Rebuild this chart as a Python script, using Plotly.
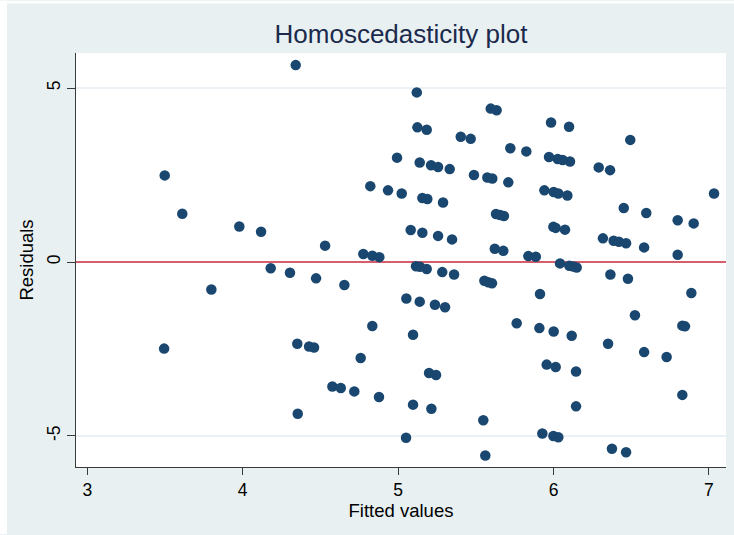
import plotly.graph_objects as go

fitted = [
    4.341, 3.498, 3.611, 3.978, 4.118, 4.180, 4.304, 4.472, 3.798, 3.494,
    4.351, 4.427, 4.459, 4.354, 5.120, 5.596, 5.634, 5.124, 5.184, 5.403,
    5.467, 5.722, 4.993, 5.139, 5.212, 5.257, 5.332, 5.488, 5.574, 5.606,
    5.709, 4.821, 4.935, 5.023, 5.156, 5.188, 5.289, 5.630, 5.656, 5.681,
    4.530, 5.081, 5.156, 5.257, 5.347, 5.622, 5.677, 4.776, 4.834, 4.879,
    5.115, 5.141, 5.184, 5.284, 5.360, 5.555, 5.580, 5.604, 4.654, 5.053,
    5.139, 5.237, 5.302, 4.834, 5.096, 5.763, 4.759, 5.199, 5.244, 4.577,
    4.631, 4.718, 4.877, 5.096, 5.214, 5.548, 5.051, 5.561, 5.984, 6.100,
    6.494, 5.825, 5.971, 6.027, 6.059, 6.106, 6.291, 6.364, 5.941, 6.001,
    6.031, 6.089, 7.033, 6.452, 6.597, 6.799, 6.902, 5.999, 6.014, 6.074,
    6.318, 6.387, 6.421, 6.467, 6.583, 6.799, 5.838, 5.886, 6.042, 6.102,
    6.127, 6.149, 6.366, 6.479, 5.913, 6.887, 6.524, 5.909, 6.001, 6.117,
    6.829, 6.846, 6.351, 6.583, 6.728, 5.956, 6.014, 6.145, 6.829, 6.145,
    5.928, 5.999, 6.031, 6.376, 6.467,
]
residuals = [
    5.66, 2.49, 1.385, 1.02, 0.87, -0.18, -0.31, -0.47, -0.79, -2.49,
    -2.35, -2.43, -2.46, -4.36, 4.875, 4.41, 4.36, 3.87, 3.80, 3.60,
    3.54, 3.27, 3.00, 2.86, 2.78, 2.73, 2.67, 2.50, 2.43, 2.40,
    2.29, 2.18, 2.06, 1.97, 1.84, 1.81, 1.71, 1.38, 1.35, 1.32,
    0.47, 0.92, 0.84, 0.75, 0.65, 0.38, 0.32, 0.23, 0.18, 0.14,
    -0.12, -0.14, -0.20, -0.29, -0.36, -0.54, -0.58, -0.61, -0.66, -1.05,
    -1.14, -1.23, -1.30, -1.84, -2.09, -1.76, -2.76, -3.19, -3.25, -3.58,
    -3.62, -3.72, -3.88, -4.10, -4.22, -4.55, -5.05, -5.56, 4.01, 3.89,
    3.51, 3.18, 3.02, 2.96, 2.93, 2.89, 2.72, 2.64, 2.06, 2.01,
    1.97, 1.91, 1.97, 1.55, 1.41, 1.20, 1.11, 1.01, 0.98, 0.93,
    0.68, 0.61, 0.58, 0.54, 0.42, 0.21, 0.17, 0.15, -0.04, -0.11,
    -0.13, -0.16, -0.36, -0.48, -0.92, -0.89, -1.53, -1.90, -2.00, -2.12,
    -1.83, -1.85, -2.35, -2.59, -2.73, -2.95, -3.02, -3.15, -3.82, -4.15,
    -4.93, -5.00, -5.04, -5.37, -5.47,
]
x_ticks = [3, 4, 5, 6, 7]
x_tick_labels = ["3", "4", "5", "6", "7"]
y_ticks = [-5, 0, 5]
y_tick_labels = ["-5", "0", "5"]
ref_line = 0

W, H = 734, 535
L, R, T, B = 76, 8, 52.5, 67.5
pw, ph = W - L - R, H - T - B

FONT = "Liberation Sans, Arial, Helvetica, sans-serif"
BG = "#E8F0F2"
GRID = "#E4EDF0"
AXIS = "#3A3A3A"

fig = go.Figure()
fig.add_trace(go.Scatter(
    x=fitted, y=residuals, mode="markers",
    marker=dict(color="#1A476F", size=10.5, line=dict(width=0)),
    showlegend=False,
))

shapes = [
    # thin white border strips at top and left of the graph region
    dict(type="rect", xref="paper", yref="paper", layer="below",
         x0=-L / pw, x1=(W - L) / pw,
         y0=(H - B - 3) / ph, y1=(H - B) / ph,
         fillcolor="white", line=dict(width=0)),
    dict(type="rect", xref="paper", yref="paper", layer="below",
         x0=-L / pw, x1=(7 - L) / pw,
         y0=-B / ph, y1=(H - B) / ph,
         fillcolor="white", line=dict(width=0)),
    # plot region (white)
    dict(type="rect", xref="paper", yref="paper", layer="below",
         x0=0, x1=1, y0=0, y1=1, fillcolor="white", line=dict(width=0)),
]
# horizontal gridlines at the non-zero y ticks
for v in y_ticks:
    if v != ref_line:
        shapes.append(dict(type="line", xref="paper", yref="y", layer="below",
                           x0=0, x1=1, y0=v, y1=v,
                           line=dict(color=GRID, width=1.5)))
# reference line at 0
shapes.append(dict(type="line", xref="paper", yref="y", layer="between",
                   x0=0, x1=1, y0=ref_line, y1=ref_line,
                   line=dict(color="#C8283C", width=1.5)))

fig.update_layout(
    width=W, height=H,
    margin=dict(l=L, r=R, t=T, b=B, pad=0),
    paper_bgcolor=BG,
    plot_bgcolor="white",
    font=dict(family=FONT, size=17, color="black"),
    title=dict(text="Homoscedasticity plot", x=(L + pw / 2) / W, xanchor="center",
               y=1 - 34 / H, yanchor="middle",
               font=dict(family=FONT, size=26, color="#1B2A4C")),
    shapes=shapes,
    xaxis=dict(
        range=[2.927, 7.110], tickmode="array", tickvals=x_ticks, ticktext=x_tick_labels,
        ticks="outside", ticklen=7, tickwidth=1.3, tickcolor=AXIS,
        showline=True, linecolor=AXIS, linewidth=1.3,
        showgrid=False, zeroline=False,
        title=dict(text="Fitted values", font=dict(size=18.5), standoff=3),
        tickfont=dict(size=17.5),
    ),
    yaxis=dict(
        range=[-5.893, 6.008], tickmode="array", tickvals=y_ticks, ticktext=y_tick_labels,
        ticks="outside", ticklen=8, tickwidth=1.3, tickcolor=AXIS,
        showline=True, linecolor=AXIS, linewidth=1.3,
        showgrid=False, zeroline=False, tickangle=-90,
        title=dict(text="Residuals", font=dict(size=18.5), standoff=5),
        tickfont=dict(size=17.5),
    ),
)

fig.write_html("out.html")
